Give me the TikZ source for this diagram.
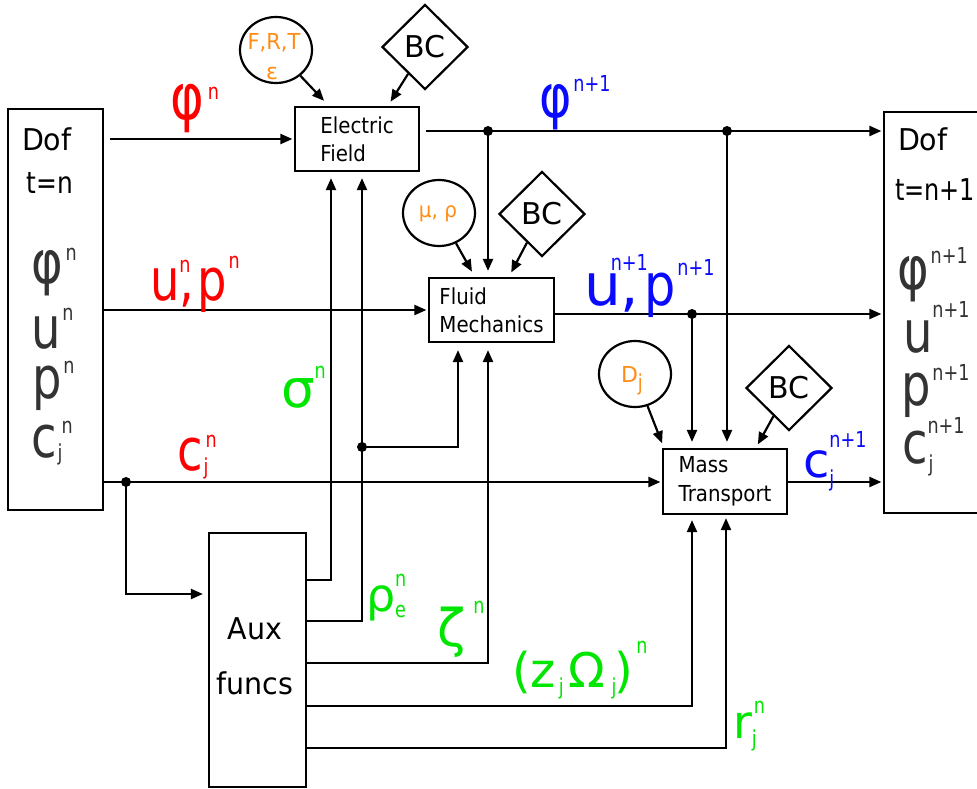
\documentclass[tikz,border=0pt]{standalone}
\usepackage{fontspec}
\setmainfont{DejaVu Sans}
\usepackage{graphicx}
\usetikzlibrary{arrows.meta,shapes.geometric,calc}
\definecolor{vred}{RGB}{255,0,0}
\definecolor{vblue}{RGB}{10,10,255}
\definecolor{vgreen}{RGB}{0,230,0}
\definecolor{vorange}{RGB}{255,140,20}
\definecolor{vgray}{RGB}{51,51,51}
\newcommand\fs[1]{\fontsize{#1}{#1}\selectfont}
\newcommand\supf[1]{{\fs{22}\scalebox{0.8}[1]{#1}}}
\newcommand\G[3]{{\fs{#1}\scalebox{#2}[1]{#3}}}
\newcommand\SpK[3]{\rlap{\hspace{#1}\raisebox{#2}{\supf{#3}}}}
\newcommand\Sp[2]{\SpK{0pt}{#1}{#2}}
\newcommand\nx[1]{\scalebox{.9}[1]{#1}}
\begin{document}
\begin{tikzpicture}[x=1pt,y=-1pt,line width=2.2pt,
  box/.style={draw, rectangle, inner sep=0pt},
  arr/.style={-{Triangle[length=12pt,width=10pt]}},
  lbl/.style={anchor=base west, inner sep=0pt, outer sep=0pt},
  circ/.style={draw, ellipse, minimum width=72pt, minimum height=66pt, inner sep=0pt},
  bcd/.style={draw, diamond, minimum width=86pt, minimum height=85pt, inner sep=0pt, font=\fs{30}},
  dot/.style={fill, circle, inner sep=0pt, minimum size=10pt}]
\useasboundingbox (0,0) rectangle (977,789);

% boxes
\node[box, minimum width=95pt, minimum height=401pt] (dofl) at (55.5,309.5) {};
\node[box, minimum width=95pt, minimum height=401pt] (dofr) at (931.5,312.5) {};
\node[box, minimum width=124pt, minimum height=64pt, align=left, font=\fontsize{22}{28}\selectfont] (ef) at (357,139) {\nx{Electric}\\\nx{Field}};
\node[box, minimum width=125pt, minimum height=64pt, align=left, font=\fontsize{22}{28}\selectfont] (fm) at (491.5,310) {\nx{Fluid}\\\nx{Mechanics}};
\node[box, minimum width=124pt, minimum height=65pt, align=left, font=\fontsize{22}{29}\selectfont] (mt) at (725,481.5) {\nx{Mass}\\\nx{Transport}};
\node[box, minimum width=97pt, minimum height=254pt] (aux) at (257.5,660) {};
\node[align=center, inner sep=0pt, font=\fontsize{30}{55}\selectfont] (auxt) at (255,656) {\scalebox{.95}[1]{Aux}\\\scalebox{.95}[1]{funcs}};

% parameter circles and BC diamonds
\node[circ] (frt) at (276,50) {};
\node[anchor=base, inner sep=0pt, text=vorange, font=\fs{22}] (frtt) at (274,50) {\scalebox{.95}[1]{F,R,T}};
\node[anchor=base, inner sep=0pt, text=vorange, font=\fs{22}] (eps) at (272,80) {ε};
\node[circ] (mr) at (439,213) {};
\node[anchor=base, inner sep=0pt, text=vorange, font=\fs{21}] (mrt) at (438,217) {\scalebox{.95}[1]{μ, ρ}};
\node[circ] (dj) at (635,374) {};
\node[lbl, text=vorange] (djt) at (621,382) {\G{22}{1}{D}\Sp{-8pt}{j}};
\node[bcd] (bc1) at (425,47) {BC};
\node[bcd] (bc2) at (542,214) {BC};
\node[bcd] (bc3) at (789,388) {BC};

% junction points
\coordinate (d1) at (488,131);
\coordinate (d2) at (727,131);
\coordinate (d3) at (692,314);
\coordinate (dc) at (126,482);
\coordinate (ds) at (362,447);

% main flow
\draw[arr, shorten <=6pt, shorten >=1.5pt] (dofl.east |- ef.west) -- (ef.west);
\draw[arr, shorten >=1.5pt] (dofl.east |- fm.west) -- (fm.west);
\draw[arr, shorten >=1.5pt] (dofl.east |- dc) -- (mt.west |- dc);
\draw[arr, shorten <=6pt, shorten >=1.5pt] ($(ef.east)+(0,-8)$) -- (dofr.west |- d1);
\draw[arr, shorten >=6pt] (d1) -- (d1 |- fm.north);
\draw[arr, shorten >=6pt] (d2) -- (d2 |- mt.north);
\draw[arr, shorten >=1.5pt] (fm.east |- d3) -- (dofr.west |- d3);
\draw[arr, shorten >=6pt] (d3) -- (d3 |- mt.north);
\draw[arr, shorten >=1.5pt] (mt.east |- dc) -- (dofr.west |- dc);
\draw[arr, shorten >=5pt] (dc) |- (aux.west |- 0,594);

% aux outputs
\draw[arr, shorten >=6pt] (aux.east |- 0,580) -| (ef.south -| 331,0);
\draw[arr, shorten >=6pt] (aux.east |- 0,621) -| (ef.south -| ds);
\draw[arr, shorten >=7pt] (ds) -| (fm.south -| 458,0);
\draw[arr, shorten >=7pt] (aux.east |- 0,663) -| (fm.south -| d1);
\draw[arr, shorten >=5pt] (aux.east |- 0,706) -| (mt.south -| d3);
\draw[arr, shorten >=3pt] (aux.east |- 0,748) -| (mt.south -| 726,0);

% parameter inputs
\draw[arr, shorten >=7pt] (frt) -- ($(ef.north west)+(35,0)$);
\draw[arr, shorten >=5pt] (bc1) -- ($(ef.north west)+(94,0)$);
\draw[arr, shorten >=6pt] (mr) -- ($(fm.north west)+(47,0)$);
\draw[arr, shorten >=5pt] (bc2) -- ($(fm.north west)+(81,0)$);
\draw[arr, shorten >=5pt] (dj) -- ($(mt.north west)+(2,0)$);
\draw[arr, shorten >=4pt] (bc3) -- ($(mt.north west)+(94,0)$);

% dots
\node[dot] (dot1) at (d1) {};
\node[dot] (dot2) at (d2) {};
\node[dot] (dot3) at (d3) {};
\node[dot] (dotc) at (dc) {};
\node[dot] (dots) at (ds) {};

% left Dof texts
\node[lbl, font=\fs{30}] (dofltxt) at (22,150) {\scalebox{.95}[1]{Dof}};
\node[lbl, font=\fs{30}] (tn) at (27,193) {\scalebox{.83}[1]{t=n}};
\node[lbl, text=vgray] (lphi) at (31,283) {\G{60}{.8}{φ}\SpK{3pt}{23pt}{n}};
\node[lbl, text=vgray] (lu) at (31,348) {\G{58}{.8}{u}\SpK{2pt}{28pt}{n}};
\node[lbl, text=vgray] (lp) at (32,398) {\G{58}{.8}{p}\SpK{2pt}{25pt}{n}};
\node[lbl, text=vgray] (lc) at (31,457) {\G{58}{.8}{c}\SpK{1pt}{-3pt}{j}\SpK{5pt}{24pt}{n}};

% right Dof texts
\node[lbl, font=\fs{30}] (dofrtxt) at (898,150) {\scalebox{.95}[1]{Dof}};
\node[lbl, font=\fs{30}] (tn1) at (895,200) {\scalebox{.8}[1]{t=n+1}};
\node[lbl, text=vgray] (rphi) at (897,289) {\G{60}{.8}{φ}\SpK{2pt}{26pt}{n+1}};
\node[lbl, text=vgray] (ru) at (903,352) {\G{58}{.8}{u}\Sp{35pt}{n+1}};
\node[lbl, text=vgray] (rp) at (901,405) {\G{58}{.8}{p}\SpK{2pt}{25pt}{n+1}};
\node[lbl, text=vgray] (rc) at (902,463) {\G{58}{.8}{c}\SpK{1pt}{-8pt}{j}\Sp{30pt}{n+1}};

% red labels
\node[lbl, text=vred] (rphin) at (170,120) {\G{64}{.8}{φ}\SpK{4pt}{20pt}{n}};
\node[lbl, text=vred] (rupn) at (150,300) {\G{58}{.8}{u}\Sp{28pt}{n}\G{58}{.8}{,}\hspace{3pt}\G{58}{.8}{p}\SpK{2pt}{32pt}{n}};
\node[lbl, text=vred] (rcjn) at (177,470) {\G{58}{.8}{c}\SpK{1pt}{-4pt}{j}\SpK{3pt}{23pt}{n}};

% blue labels
\node[lbl, text=vblue] (bphi) at (539,118) {\G{60}{.82}{φ}\SpK{2pt}{26pt}{n+1}};
\node[lbl, text=vblue] (bup) at (584,305) {\G{58}{1}{u}\SpK{-10pt}{35pt}{n+1}\G{58}{1}{,}\hspace{5pt}\G{58}{.85}{p}\SpK{2pt}{30pt}{n+1}};
\node[lbl, text=vblue] (bcj) at (803,477) {\G{48}{1}{c}\Sp{-9pt}{j}\Sp{30pt}{n+1}};

% green labels
\node[lbl, text=vgreen] (gsig) at (281,407) {\G{53}{1}{σ}\Sp{29pt}{n}};
\node[lbl, text=vgreen] (grho) at (366,611) {\G{46}{1}{ρ}\Sp{-6pt}{e}\Sp{25pt}{n}};
\node[lbl, text=vgreen] (gzeta) at (437,646) {\G{52}{1}{ζ}\SpK{8pt}{33pt}{n}};
\node[lbl, text=vgreen] (gzo) at (512,687) {\G{48}{1}{(z}\SpK{3pt}{-7pt}{j}\hspace{13pt}\G{48}{1}{Ω}\SpK{6pt}{-7pt}{j}\hspace{9pt}\G{48}{1}{)}\SpK{3pt}{34pt}{n}};
\node[lbl, text=vgreen] (grj) at (733,738) {\G{46}{1}{r}\Sp{-8pt}{j}\SpK{2pt}{25pt}{n}};
\end{tikzpicture}
\end{document}
